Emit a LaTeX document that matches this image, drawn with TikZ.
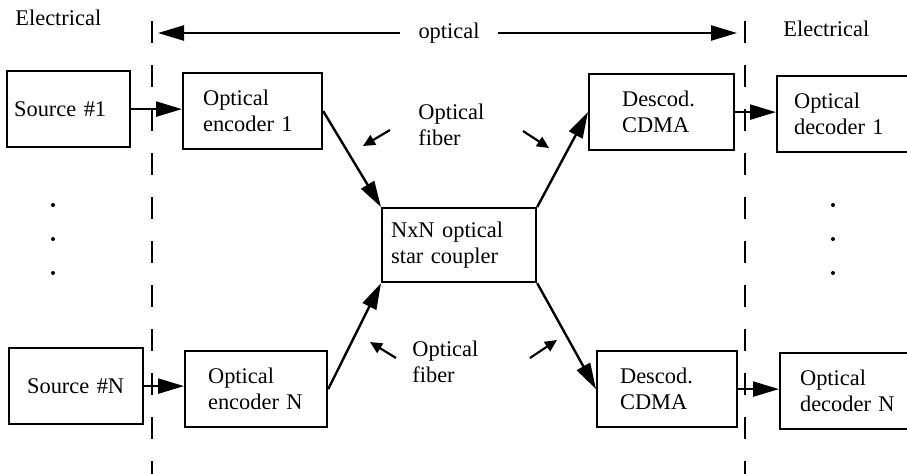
\documentclass[tikz,border=0pt]{standalone}
\usepackage{fontspec}
\setmainfont{Liberation Serif}
\usetikzlibrary{arrows.meta}

\tikzset{
  blk/.style={draw, line width=1.1pt, anchor=north west, align=left, inner ysep=0pt, minimum height=38pt},
  txt/.style={anchor=west, inner sep=0pt, align=left},
  link/.style={line width=1.2pt, -{Triangle[length=13pt,width=7.5pt]}},
  pointer/.style={line width=1.1pt, -{Triangle[length=6pt,width=5.5pt]}},
  bound/.style={line width=1.1pt, dash pattern=on 11pt off 11pt},
}

\begin{document}
\begin{tikzpicture}[x=0.5pt, y=-0.5pt, font=\fontsize{11.2}{13}\selectfont]
\useasboundingbox (0,0) rectangle (907,473);

% electrical / optical borders
\draw[bound] (152,21) -- (152,480);
\draw[bound] (745,21) -- (745,480);

\node[txt] (elecl) at (15,18) {Electrical};
\node[txt] (elecr) at (783,29) {Electrical};

% optical span
\node[inner xsep=9pt] (opt) at (449,33) {optical};
\coordinate (optl) at (158,33);
\coordinate (optr) at (737,33);
\draw[link] (opt) -- (optl);
\draw[link] (opt) -- (optr);

% transmitters
\node[blk, text width=54.5pt, inner xsep=3.5pt] (src1) at (6,70) {Source \#1};
\node[blk, text width=49.5pt, inner xsep=10pt] (enc1) at (182,72) {Optical\\encoder 1};
\node[blk, text width=49pt, inner xsep=9pt] (srcN) at (8,347) {Source \#N};
\node[blk, text width=48pt, inner xsep=11.5pt] (encN) at (184,350) {Optical\\encoder N};

% coupler
\node[blk, minimum height=37pt, text width=68pt, inner xsep=4.5pt] (star) at (381,207) {NxN optical\\star coupler};

% receivers
\node[blk, text width=39.5pt, inner xsep=16.5pt] (desc1) at (588,73) {Descod.\\CDMA};
\node[blk, text width=52.5pt, inner xsep=8.5pt] (dec1) at (776,75) {Optical\\decoder 1};
\node[blk, text width=47pt, inner xsep=11.5pt] (descN) at (596,350) {Descod.\\CDMA};
\node[blk, text width=48pt, inner xsep=10pt] (decN) at (779,352) {Optical\\decoder N};

\draw[link] (src1.east) -- (src1.east -| enc1.west);
\draw[link] (srcN.east) -- (srcN.east -| encN.west);
\draw[link] (enc1.east) -- (star.north west);
\draw[link] (encN.east) -- (star.south west);
\draw[link] (star.north east) -- (desc1.west);
\draw[link] (star.south east) -- (descN.west);
\draw[link] (desc1.east) -- (desc1.east -| dec1.west);
\draw[link] (descN.east) -- (descN.east -| decN.west);

% fiber labels
\node[txt] (fib1) at (418,125) {Optical\\fiber};
\node[txt] (fib2) at (412,362) {Optical\\fiber};
\coordinate (f1a) at (390,130); \coordinate (f1b) at (363,146);
\coordinate (f2a) at (523,131); \coordinate (f2b) at (549,148);
\coordinate (f3a) at (396,358); \coordinate (f3b) at (370,342);
\coordinate (f4a) at (530,358); \coordinate (f4b) at (557,340);
\draw[pointer] (f1a) -- (f1b);
\draw[pointer] (f2a) -- (f2b);
\draw[pointer] (f3a) -- (f3b);
\draw[pointer] (f4a) -- (f4b);

% dots between 1 and N
\foreach \y in {205,239,273} {
  \fill (53,\y) circle (1pt);
  \fill (833,\y) circle (1pt);
}
\end{tikzpicture}
\end{document}
